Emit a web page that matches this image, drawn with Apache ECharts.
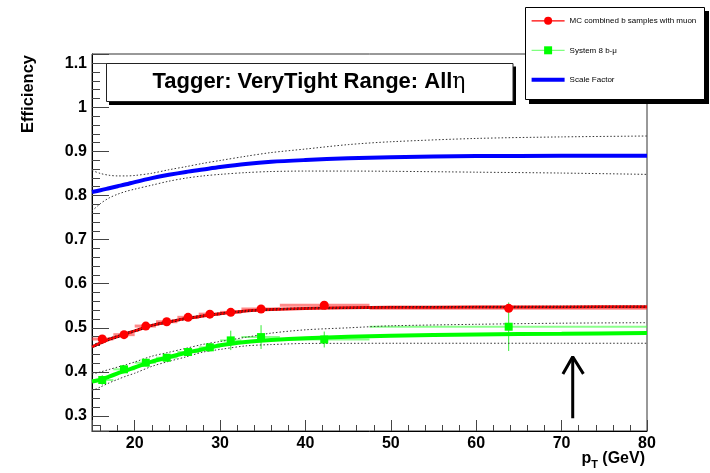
<!DOCTYPE html>
<html>
<head>
<meta charset="utf-8">
<title>Tagger efficiency</title>
<script src="https://cdn.jsdelivr.net/npm/echarts@6/dist/echarts.min.js"></script>
<style>
  html, body { margin: 0; padding: 0; background: #fff; }
  #main { width: 710px; height: 473px; }
</style>
</head>
<body>
<div id="main"></div>
<script type="text/javascript">
// measured bins (pT in GeV)
var binX  = [16.2, 18.75, 21.3, 23.75, 26.25, 28.8, 31.25, 34.8, 42.2, 63.8];
var binLo = [15, 17.5, 20, 22.5, 25, 27.5, 30, 32.5, 37, 47.5];
var binHi = [17.5, 20, 22.5, 25, 27.5, 30, 32.5, 37, 47.5, 80];

// MC combined b samples with muon
var mcEff = [0.4746, 0.4845, 0.504, 0.5138, 0.5238, 0.531, 0.5351, 0.5426, 0.5512, 0.5442];
var mcErr = [0.004, 0.004, 0.004, 0.004, 0.004, 0.004, 0.004, 0.004, 0.005, 0.006];

// System 8 b-mu
var s8Eff = [0.3816, 0.4059, 0.4209, 0.4322, 0.4451, 0.4558, 0.4715, 0.479, 0.4735, 0.5025];
var s8Err = [0.011, 0.009, 0.008, 0.008, 0.009, 0.01, 0.022, 0.027, 0.018, 0.055];

var fitX     = [15, 16, 17, 18, 19, 20, 22, 24, 26, 28, 30, 33, 36, 40, 45, 50, 60, 70, 80];
var mcFit    = [0.457, 0.466, 0.474, 0.480, 0.487, 0.493, 0.5055, 0.5135, 0.521, 0.527, 0.532, 0.538, 0.5415, 0.544, 0.5455, 0.5465, 0.547, 0.5475, 0.548];
var mcUp     = [0.460, 0.469, 0.4765, 0.4825, 0.489, 0.495, 0.5075, 0.5155, 0.523, 0.529, 0.534, 0.5395, 0.543, 0.5455, 0.547, 0.548, 0.5485, 0.549, 0.5495];
var mcDown   = [0.454, 0.463, 0.4715, 0.4775, 0.485, 0.491, 0.5035, 0.5115, 0.519, 0.525, 0.530, 0.5365, 0.540, 0.5425, 0.544, 0.545, 0.5455, 0.546, 0.5465];
var s8Fit    = [0.378, 0.3825, 0.3895, 0.3965, 0.4035, 0.41, 0.4235, 0.4335, 0.4435, 0.4515, 0.4605, 0.468, 0.4725, 0.4765, 0.4795, 0.482, 0.485, 0.4865, 0.488];
var s8Up     = [0.395, 0.400, 0.4055, 0.411, 0.4165, 0.4225, 0.4355, 0.4445, 0.4535, 0.4625, 0.469, 0.4785, 0.488, 0.4955, 0.5, 0.5045, 0.508, 0.5105, 0.5116];
var s8Down   = [0.357, 0.366, 0.375, 0.383, 0.3905, 0.397, 0.4125, 0.424, 0.434, 0.445, 0.451, 0.459, 0.462, 0.4645, 0.4648, 0.465, 0.465, 0.465, 0.465];
var sfFit    = [0.808, 0.812, 0.8165, 0.821, 0.8255, 0.8305, 0.8395, 0.847, 0.8535, 0.859, 0.8645, 0.8715, 0.8765, 0.8805, 0.8845, 0.887, 0.8895, 0.890, 0.8905];
var sfUp     = [0.857, 0.850, 0.846, 0.8445, 0.8445, 0.8455, 0.8505, 0.8585, 0.8655, 0.873, 0.8795, 0.889, 0.8975, 0.9055, 0.9155, 0.922, 0.9295, 0.933, 0.935];
var sfDown   = [0.765, 0.782, 0.7945, 0.803, 0.8095, 0.8145, 0.8235, 0.8325, 0.8395, 0.8445, 0.848, 0.852, 0.8545, 0.8555, 0.8555, 0.855, 0.853, 0.851, 0.848];

// arrow marking the pT region
var arrowShaft = [[71.3, 0.295], [71.3, 0.4345]];
var arrowHead  = [[70.15, 0.3955], [71.3, 0.4345], [72.55, 0.3955]];

var font = "'Liberation Sans', Arial, Helvetica, sans-serif";

function zipPts(xs, ys) {
    return xs.map(function (x, i) { return [x, ys[i]]; });
}
function errData(ys, errs) {
    return binX.map(function (x, i) {
        return [x, ys[i], binLo[i], binHi[i], ys[i] - errs[i], ys[i] + errs[i]];
    });
}
function errorBars(hColor, hWidth, vColor, vWidth) {
    return function (params, api) {
        var x = api.value(0), y = api.value(1);
        var a = api.coord([api.value(2), y]);
        var b = api.coord([api.value(3), y]);
        var c = api.coord([x, api.value(4)]);
        var d = api.coord([x, api.value(5)]);
        return {
            type: 'group',
            children: [
                { type: 'line', shape: { x1: a[0], y1: a[1], x2: b[0], y2: b[1] }, style: { stroke: hColor, lineWidth: hWidth } },
                { type: 'line', shape: { x1: c[0], y1: c[1], x2: d[0], y2: d[1] }, style: { stroke: vColor, lineWidth: vWidth } }
            ]
        };
    };
}
function curve(name, xs, ys, color, width, dotted) {
    return {
        name: name,
        type: 'line',
        data: zipPts(xs, ys),
        smooth: 0.3,
        symbol: 'none',
        silent: true,
        itemStyle: { color: color },
        lineStyle: { color: color, width: width, type: dotted ? [1.5, 2] : 'solid' },
        z: dotted ? 4 : 3
    };
}

var myChart = echarts.init(document.getElementById('main'));

var series = [
    { type: 'custom', name: 'mcErr', renderItem: errorBars('rgba(255,40,40,0.55)', 3, 'rgba(255,0,0,0.7)', 1), data: errData(mcEff, mcErr), z: 2, silent: true },
    { type: 'custom', name: 's8Err', renderItem: errorBars('rgba(60,255,60,0.6)', 2, 'rgba(0,230,0,0.8)', 1), data: errData(s8Eff, s8Err), z: 2, silent: true },
    curve('mcFit', fitX, mcFit, '#ff0000', 3, false),
    curve('s8Fit', fitX, s8Fit, '#00ff00', 4, false),
    curve('Scale Factor', fitX, sfFit, '#0000ff', 4, false),
    curve('mcUp', fitX, mcUp, '#222', 1, true),
    curve('mcDown', fitX, mcDown, '#222', 1, true),
    curve('s8Up', fitX, s8Up, '#333', 1, true),
    curve('s8Down', fitX, s8Down, '#333', 1, true),
    curve('sfUp', fitX, sfUp, '#333', 1, true),
    curve('sfDown', fitX, sfDown, '#333', 1, true),
    {
        name: 'MC combined b samples with muon',
        type: 'line',
        data: zipPts(binX, mcEff),
        symbol: 'circle',
        symbolSize: 9,
        itemStyle: { color: '#ff0000' },
        lineStyle: { color: '#ff0000', opacity: 0 },
        z: 5
    },
    {
        name: 'System 8 b-μ',
        type: 'line',
        data: zipPts(binX, s8Eff),
        symbol: 'rect',
        symbolSize: 8,
        itemStyle: { color: '#00ff00' },
        lineStyle: { color: '#7fff7f', opacity: 0 },
        z: 5
    },
    { name: 'arrow1', type: 'line', data: arrowShaft, symbol: 'none', lineStyle: { color: '#000', width: 3 }, z: 5 },
    { name: 'arrow2', type: 'line', data: arrowHead, symbol: 'none', lineStyle: { color: '#000', width: 3 }, z: 5 }
];

var option = {
    animation: false,
    grid: { left: 92, right: 63, top: 54, bottom: 42, show: true, borderColor: '#333', borderWidth: 1 },
    xAxis: {
        type: 'value', min: 15, max: 80, splitNumber: 7,
        axisLine: { lineStyle: { color: '#000' } },
        axisTick: { inside: true, length: 11, lineStyle: { color: '#444' } },
        minorTick: { show: true, splitNumber: 5, length: 6, lineStyle: { color: '#444' } },
        axisLabel: { fontSize: 16, fontWeight: 'bold', color: '#000', fontFamily: font, margin: 5, showMinLabel: false },
        splitLine: { show: false }
    },
    yAxis: {
        type: 'value', min: 0.266, max: 1.121, splitNumber: 8,
        axisLine: { lineStyle: { color: '#000' } },
        axisTick: { inside: true, length: 17, lineStyle: { color: '#444' } },
        minorTick: { show: true, splitNumber: 5, length: 8, lineStyle: { color: '#444' } },
        axisLabel: { fontSize: 16, fontWeight: 'bold', color: '#000', fontFamily: font, margin: 5, showMinLabel: false, showMaxLabel: false },
        splitLine: { show: false }
    },
    legend: {
        orient: 'vertical',
        left: 531, top: 16.8,
        padding: 0,
        itemWidth: 33, itemHeight: 10, itemGap: 21.5,
        selectedMode: false,
        textStyle: { fontSize: 8, fontFamily: font, color: '#000' },
        data: [
            { name: 'MC combined b samples with muon', lineStyle: { width: 1.2, opacity: 1, color: '#ff0000' } },
            { name: 'System 8 b-μ', lineStyle: { width: 1.2, opacity: 1, color: '#7fff7f' } },
            { name: 'Scale Factor', icon: 'path://M0,0L33,0L33,4L0,4Z', itemStyle: { color: '#0000ff' } }
        ],
        z: 10
    },
    graphic: [
        { type: 'rect', z: 8, shape: { x: 529, y: 11, width: 180, height: 93 }, style: { fill: '#000' } },
        { type: 'rect', z: 8, shape: { x: 525.5, y: 7.5, width: 179, height: 92 }, style: { fill: '#fff', stroke: '#000', lineWidth: 1 } },
        { type: 'rect', z: 8, shape: { x: 109, y: 66.5, width: 407, height: 38.5 }, style: { fill: '#000' } },
        { type: 'rect', z: 8, shape: { x: 106.5, y: 63.5, width: 406.5, height: 38 }, style: { fill: '#fff', stroke: '#222', lineWidth: 1 } },
        {
            type: 'text', z: 9, x: 309, y: 82,
            style: {
                text: '{a|Tagger: VeryTight Range: All}{b|η}',
                align: 'center', verticalAlign: 'middle',
                rich: {
                    a: { fontSize: 22, fontWeight: 'bold', fontFamily: font, fill: '#000' },
                    b: { fontSize: 22, fontFamily: 'DejaVu Serif, serif', fill: '#000' }
                }
            }
        },
        {
            type: 'text', z: 9, x: 28, y: 55, rotation: Math.PI / 2,
            style: { text: 'Efficiency', align: 'right', verticalAlign: 'middle', font: 'bold 16.5px ' + font, fill: '#000' }
        },
        {
            type: 'text', z: 9, x: 645, y: 459,
            style: {
                text: '{p|p}{s|T}{p| (GeV)}',
                align: 'right', verticalAlign: 'middle',
                rich: {
                    p: { fontSize: 16, fontWeight: 'bold', fontFamily: font, fill: '#000' },
                    s: { fontSize: 11, fontWeight: 'bold', fontFamily: font, fill: '#000', padding: [11, 0, 0, 0] }
                }
            }
        }
    ],
    series: series
};

myChart.setOption(option);
</script>
</body>
</html>
